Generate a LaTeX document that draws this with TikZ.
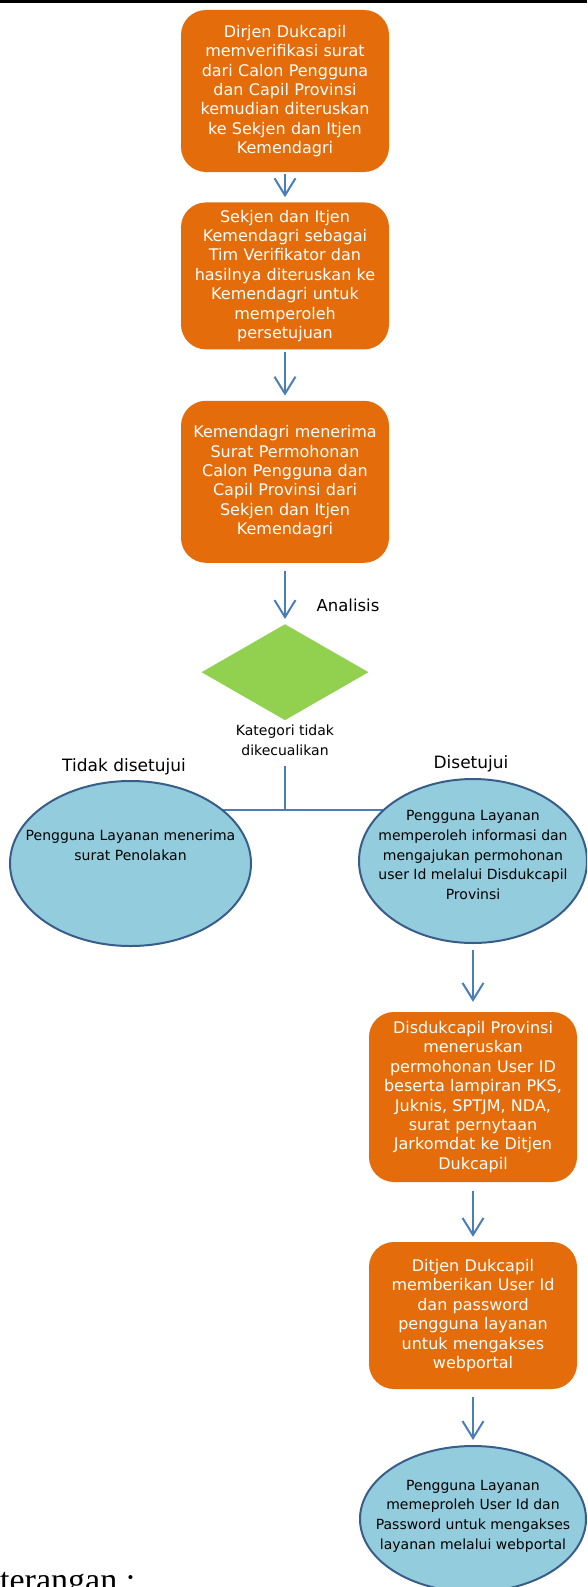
\documentclass[tikz,border=0pt]{standalone}
\usepackage{fontspec}
\setmainfont{DejaVu Sans}
\newfontfamily\ketfont{Liberation Serif}
\usepackage{tikz}
\usetikzlibrary{arrows.meta,positioning,shapes.geometric,backgrounds}
\definecolor{oranye}{HTML}{E46C0A}
\definecolor{hijau}{HTML}{92D050}
\definecolor{birumuda}{HTML}{93CDDD}
\definecolor{birutepi}{HTML}{385D8A}
\definecolor{birupanah}{HTML}{4A7EBB}
\tikzset{
    %Define standard arrow tip
    >={Straight Barb[length=17pt,width=21pt,line width=2pt]},
    %Define style for orange boxes
    kotak/.style={
           rectangle,
           rounded corners=25pt,
           fill=oranye,
           text=white,
           text width=200pt,
           minimum width=208pt,
           inner sep=0pt,
           align=center,
           font=\fontsize{16}{19.4}\selectfont},
    % Define arrow style
    pil/.style={
           ->,
           draw=birupanah,
           line width=2pt,
           shorten >=5pt},
    garis/.style={draw=birupanah, line width=2pt},
    % Define decision and ellipse styles
    keputusan/.style={diamond,fill=hijau,minimum width=167pt,minimum height=96pt,inner sep=0pt},
    gelembung/.style={ellipse,fill=birumuda,draw=birutepi,line width=2pt,inner sep=0pt},
    isi/.style={align=center,inner sep=0pt,font=\fontsize{14}{19.7}\selectfont},
    judul/.style={inner sep=0pt,font=\fontsize{17}{20}\selectfont}
}

\begin{document}
\begin{tikzpicture}[x=1pt,y=1pt]
  \useasboundingbox (0,0) rectangle (587,-1587);
  \clip (0,0) rectangle (587,-1587);
  \fill (0,0) rectangle (587,-3);
  % left column
  \node[kotak,minimum height=162pt] (dirjen) at (285,-91) {Dirjen Dukcapil\\memverifikasi surat\\dari Calon Pengguna\\dan Capil Provinsi\\kemudian diteruskan\\ke Sekjen dan Itjen\\Kemendagri};
  \node[kotak,minimum height=147pt] (sekjen) [below=30pt of dirjen] {Sekjen dan Itjen\\Kemendagri sebagai\\Tim Verifikator dan\\hasilnya diteruskan ke\\Kemendagri untuk\\memperoleh\\persetujuan};
  \node[kotak,minimum height=162pt] (mendagri) [below=51pt of sekjen] {Kemendagri menerima\\Surat Permohonan\\Calon Pengguna dan\\Capil Provinsi dari\\Sekjen dan Itjen\\Kemendagri};
  \node[keputusan] (analisis) [below=61pt of mendagri] {};
  \node[judul,font=\fontsize{16.5}{20}\selectfont] (lblanalisis) at (348,-605) {Analisis};
  \node[isi,font=\fontsize{14}{20}\selectfont] (kategori) at (285,-740) {Kategori tidak\\dikecualikan};
  \coordinate (cabang) at (285,-810);
  % branches
  \node[gelembung,minimum width=241pt,minimum height=165pt] (tolak) at (130.5,-863.5) {};
  \node[isi] (tolakisi) at ([yshift=18pt]tolak.center) {Pengguna Layanan menerima\\surat Penolakan};
  \node[gelembung,minimum width=228pt,minimum height=164pt] (setuju) at (473,-861) {};
  \node[isi] (setujuisi) at ([yshift=6pt]setuju.center) {Pengguna Layanan\\memperoleh informasi dan\\mengajukan permohonan\\user Id melalui Disdukcapil\\Provinsi};
  \node[judul] (lbltolak) at (124,-767) {Tidak disetujui};
  \node[judul] (lblsetuju) at (471,-764) {Disetujui};
  % right column
  \node[kotak,minimum height=170pt] (disduk) at (473,-1097) {Disdukcapil Provinsi\\meneruskan\\permohonan User ID\\beserta lampiran PKS,\\Juknis, SPTJM, NDA,\\surat pernytaan\\Jarkomdat ke Ditjen\\Dukcapil};
  \node[kotak,minimum height=147pt] (ditjen) at (473,-1315.5) {Ditjen Dukcapil\\memberikan User Id\\dan password\\pengguna layanan\\untuk mengakses\\webportal};
  \node[gelembung,minimum width=226pt,minimum height=146pt] (akses) at (473,-1519) {};
  \node[isi] (aksesisi) at ([yshift=3pt]akses.center) {Pengguna Layanan\\memeproleh User Id dan\\Password untuk mengakses\\layanan melalui webportal};
  \node[anchor=base west,inner sep=0pt,font=\ketfont\fontsize{34}{40}\selectfont] (ket) at (0,-1591) {terangan :};
  % connectors
  \draw[pil,shorten <=2pt] (dirjen) -- (sekjen);
  \draw[pil,shorten <=2pt] (sekjen) -- (mendagri);
  \draw[pil,shorten <=8pt] (mendagri) -- (analisis);
  \draw[garis,shorten <=10pt] (kategori) -- (cabang);
  \begin{scope}[on background layer]
    \draw[garis] (tolak.center |- cabang) -- (setuju.center |- cabang);
  \end{scope}
  \draw[pil,shorten <=6pt,shorten >=10pt] (setuju) -- (disduk);
  \draw[pil,shorten <=9pt] (disduk) -- (ditjen);
  \draw[pil,shorten <=8pt] (ditjen) -- (akses);
\end{tikzpicture}
\end{document}
